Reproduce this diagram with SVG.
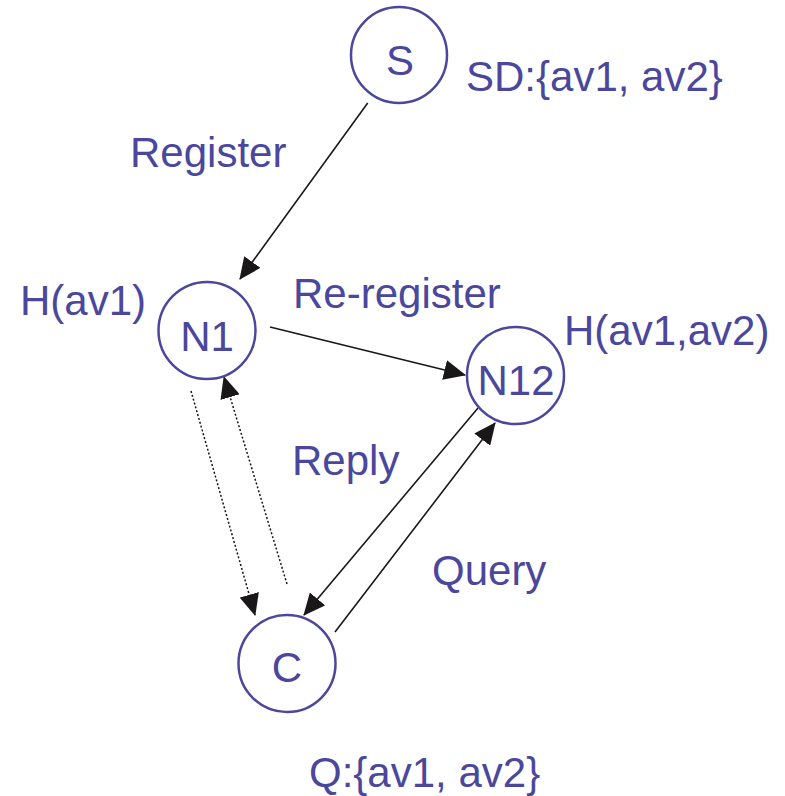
<svg xmlns="http://www.w3.org/2000/svg" width="785" height="796" viewBox="0 0 785 796">
<defs>
<style>
.node{fill:none;stroke:#4a479d;stroke-width:2.5}
.t{font-family:"Liberation Sans",Arial,sans-serif;font-size:42px;fill:#4a479d}
.c{text-anchor:middle}
.e{stroke:#1a1718;stroke-width:1.6;fill:none}
.d{stroke:#1a1718;stroke-width:1.5;fill:none;stroke-dasharray:2,2}
</style>
<marker id="ah" viewBox="0 0 22 20" markerWidth="22" markerHeight="20" refX="21" refY="10" orient="auto" markerUnits="userSpaceOnUse">
<path d="M0,0 L22,10 L0,20 z" fill="#1a1718"/>
</marker>
</defs>
<rect width="785" height="796" fill="#ffffff"/>
<g id="connectors">
<line class="e" x1="367.7" y1="103" x2="240" y2="279" marker-end="url(#ah)"/>
<line class="e" x1="270" y1="327" x2="465" y2="375" marker-end="url(#ah)"/>
<line class="d" x1="191" y1="391" x2="255" y2="615" marker-end="url(#ah)"/>
<line class="d" x1="287" y1="584" x2="224" y2="377" marker-end="url(#ah)"/>
<line class="e" x1="478" y1="408" x2="304" y2="615" marker-end="url(#ah)"/>
<line class="e" x1="335" y1="632" x2="495" y2="423" marker-end="url(#ah)"/>
</g>
<g id="labels">
<text class="t" x="130" y="167">Register</text>
<text class="t" x="293" y="308">Re-register</text>
<text class="t" x="292" y="475">Reply</text>
<text class="t" x="432" y="585">Query</text>
</g>
<g id="node-S">
<circle class="node" cx="399" cy="55" r="48"/>
<text class="t c" x="400" y="75">S</text>
<text class="t" x="466" y="91">SD:{av1, av2}</text>
</g>
<g id="node-N1">
<circle class="node" cx="207" cy="330.5" r="48.5"/>
<text class="t c" x="207" y="351">N1</text>
<text class="t" x="20" y="315">H(av1)</text>
</g>
<g id="node-N12">
<circle class="node" cx="515.5" cy="375.5" r="48.5"/>
<text class="t c" x="516" y="395">N12</text>
<text class="t" x="564" y="345">H(av1,av2)</text>
</g>
<g id="node-C">
<circle class="node" cx="287" cy="663.5" r="48.5"/>
<text class="t c" x="287" y="682">C</text>
<text class="t" x="309" y="787">Q:{av1, av2}</text>
</g>
</svg>
